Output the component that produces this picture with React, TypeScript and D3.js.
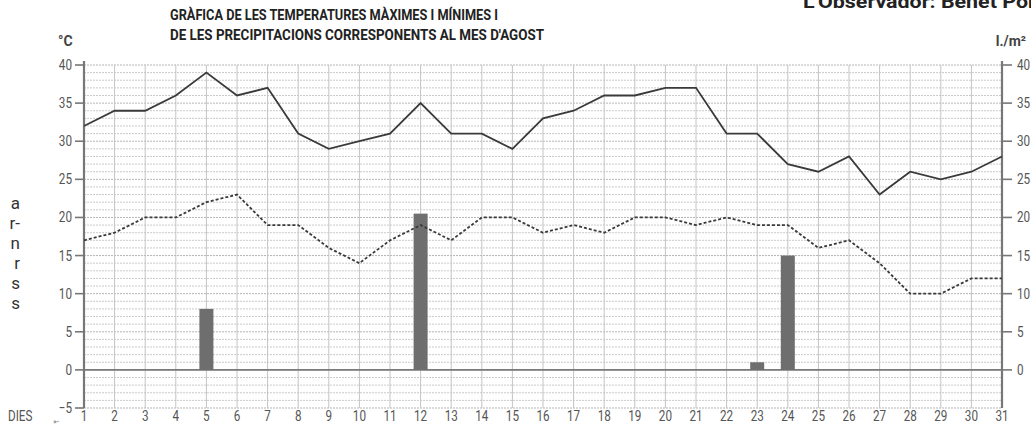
import React, { useEffect, useRef } from 'react';
import * as d3 from 'd3';

const days = d3.range(1, 32);
const maxTemps = [32, 34, 34, 36, 39, 36, 37, 31, 29, 30, 31, 35, 31, 31, 29, 33, 34, 36, 36, 37, 37, 31, 31, 27, 26, 28, 23, 26, 25, 26, 28];
const minTemps = [17, 18, 20, 20, 22, 23, 19, 19, 16, 14, 17, 19, 17, 20, 20, 18, 19, 18, 20, 20, 19, 20, 19, 19, 16, 17, 14, 10, 10, 12, 12];
const rainDays = [5, 12, 23, 24];
const rainValues = [8, 20.5, 1, 15];
const yTicks = [-5, 0, 5, 10, 15, 20, 25, 30, 35, 40];
const sideText = ['a', 'r-', 'n', 'r', 's', 's'];

const W = 1031;
const H = 427;
const FONT = 'Roboto, "Liberation Sans", sans-serif';
const NARROW = 0.78; // horizontal squeeze for the condensed print face

const App = () => {
  const ref = useRef<SVGSVGElement | null>(null);

  useEffect(() => {
    if (!ref.current) return;
    const svg = d3.select(ref.current);
    svg.selectAll('*').remove();

    const x = d3.scaleLinear().domain([1, 31]).range([84, 1002]);
    const y = d3.scaleLinear().domain([-5, 40]).range([408, 65]);

    // condensed text helper
    const narrowText = (px: number, py: number, s: string, anchor = 'start', size = 15) =>
      svg.append('text')
        .attr('transform', `translate(${px},${py}) scale(${NARROW},1)`)
        .attr('text-anchor', anchor)
        .attr('font-size', size).attr('fill', '#555')
        .text(s);

    svg.append('rect').attr('width', W).attr('height', H).attr('fill', '#fff');

    // horizontal grid, one per degree
    svg.append('g')
      .selectAll('line')
      .data(d3.range(-5, 41))
      .enter().append('line')
      .attr('x1', x(1)).attr('x2', x(31))
      .attr('y1', d => y(d)).attr('y2', d => y(d))
      .attr('stroke', d => (d % 5 === 0 ? '#b5b5b5' : '#cacaca'))
      .attr('stroke-width', 1)
      .attr('stroke-dasharray', '2,1');

    // vertical grid, one per day
    svg.append('g')
      .selectAll('line')
      .data(days)
      .enter().append('line')
      .attr('x1', d => x(d)).attr('x2', d => x(d))
      .attr('y1', y(40)).attr('y2', y(-5))
      .attr('stroke', '#c4c4c4')
      .attr('stroke-width', 1);

    // zero line
    svg.append('line')
      .attr('x1', x(1)).attr('x2', x(31))
      .attr('y1', y(0)).attr('y2', y(0))
      .attr('stroke', '#7a7a7a').attr('stroke-width', 1.6);

    // rain bars
    svg.append('g')
      .selectAll('rect')
      .data(rainDays.map((d, i) => ({ d, v: rainValues[i] })))
      .enter().append('rect')
      .attr('x', r => x(r.d) - 7)
      .attr('width', 14)
      .attr('y', r => y(r.v))
      .attr('height', r => y(0) - y(r.v))
      .attr('fill', '#6e6e6e');

    // axes
    [x(1), x(31)].forEach(ax => {
      svg.append('line')
        .attr('x1', ax).attr('x2', ax)
        .attr('y1', y(40) - 4).attr('y2', y(-5))
        .attr('stroke', '#777').attr('stroke-width', 2.2);
    });
    yTicks.forEach(t => {
      const lbl = t < 0 ? '\u2212' + Math.abs(t) : String(t);
      svg.append('line')
        .attr('x1', x(1) - 9).attr('x2', x(1))
        .attr('y1', y(t)).attr('y2', y(t))
        .attr('stroke', '#777').attr('stroke-width', 1.6);
      narrowText(x(1) - 12, y(t) + 5, lbl, 'end');
      if (t >= 0) {
        svg.append('line')
          .attr('x1', x(31)).attr('x2', x(31) + 10)
          .attr('y1', y(t)).attr('y2', y(t))
          .attr('stroke', '#777').attr('stroke-width', 1.6);
        narrowText(x(31) + 15, y(t) + 5, lbl);
      }
    });

    // day labels
    days.forEach(d => narrowText(x(d), 421, String(d), 'middle'));

    narrowText(8, 421, 'DIES');
    svg.append('text').attr('x', 53).attr('y', 424)
      .attr('font-size', 8).attr('fill', '#666').text('\u00bb-');

    // temperature lines
    const line = d3.line<number>()
      .x((_, i) => x(days[i]))
      .y(v => y(v));

    svg.append('path')
      .attr('d', line(maxTemps))
      .attr('fill', 'none')
      .attr('stroke', '#3a3a3a')
      .attr('stroke-width', 1.8);

    svg.append('path')
      .attr('d', line(minTemps))
      .attr('fill', 'none')
      .attr('stroke', '#3a3a3a')
      .attr('stroke-width', 1.8)
      .attr('stroke-dasharray', '3,2');

    // units
    svg.append('text').attr('x', 58).attr('y', 46)
      .attr('font-size', 14).attr('font-weight', 'bold').attr('fill', '#444').text('°C');
    svg.append('text').attr('x', 1026).attr('y', 46)
      .attr('text-anchor', 'end')
      .attr('font-size', 14).attr('font-weight', 'bold').attr('fill', '#444').text('l./m²');

    // titles
    svg.append('text').attr('x', 170).attr('y', 20)
      .attr('font-size', 15).attr('font-weight', 'bold').attr('fill', '#222')
      .attr('textLength', 328).attr('lengthAdjust', 'spacingAndGlyphs')
      .text('GRÀFICA DE LES TEMPERATURES MÀXIMES I MÍNIMES I');
    svg.append('text').attr('x', 170).attr('y', 40)
      .attr('font-size', 15).attr('font-weight', 'bold').attr('fill', '#222')
      .attr('textLength', 374).attr('lengthAdjust', 'spacingAndGlyphs')
      .text("DE LES PRECIPITACIONS CORRESPONENTS AL MES D'AGOST");
    svg.append('text').attr('x', 803).attr('y', 8)
      .attr('font-size', 19).attr('font-weight', 'bold').attr('fill', '#222')
      .attr('textLength', 248).attr('lengthAdjust', 'spacingAndGlyphs')
      .text("L'Observador: Benet Pons");

    // clipped paragraph edge on the left
    svg.append('g')
      .selectAll('text')
      .data(sideText)
      .enter().append('text')
      .attr('x', 20).attr('y', (_, i) => 209 + i * 20)
      .attr('text-anchor', 'end')
      .attr('font-size', 17).attr('fill', '#333')
      .text(d => d);
  }, []);

  return (
    <svg
      ref={ref}
      width={W}
      height={H}
      style={{ position: 'absolute', left: 0, top: 0, fontFamily: FONT }}
    />
  );
};

export default App;
